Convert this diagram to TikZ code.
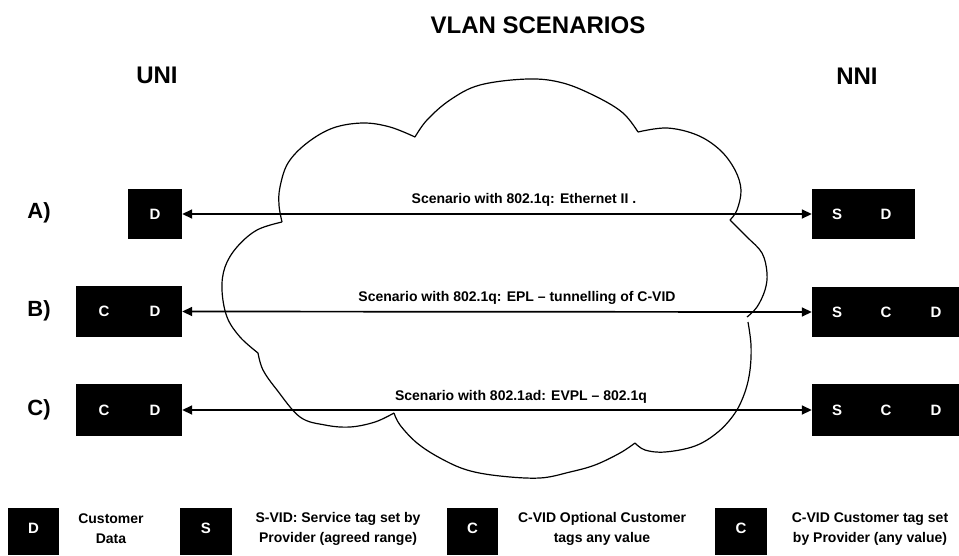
\documentclass[tikz,border=0pt]{standalone}
\usepackage{fontspec}
\setmainfont{Liberation Sans}
\usetikzlibrary{arrows.meta}
\tikzset{
  pbox/.style={fill=black, draw=none, inner sep=0pt},
  ltr/.style={text=white, inner sep=0pt, font=\bfseries\fontsize{15}{15}\selectfont},
  head/.style={inner sep=0pt, font=\bfseries\fontsize{24}{24}\selectfont},
  rowlab/.style={inner sep=0pt, font=\bfseries\fontsize{22}{22}\selectfont},
  scen/.style={inner sep=0pt, font=\bfseries\fontsize{14}{14}\selectfont},
  legtxt/.style={inner sep=0pt, align=center, font=\bfseries\fontsize{14}{20}\selectfont},
  cloudline/.style={line width=1.2pt, line join=round},
  link/.style={line width=1.7pt, {Triangle[length=10pt,width=9pt]}-{Triangle[length=10pt,width=9pt]}}
}
\begin{document}
\begin{tikzpicture}[x=1pt,y=-1pt]
\useasboundingbox[fill=white] (0,0) rectangle (959,555);

% headings
\node[head] (title) at (538,25) {VLAN SCENARIOS};
\node[head] (uni) at (157,75) {UNI};
\node[head] (nni) at (857,76) {NNI};

% cloud
\draw[cloudline] plot[smooth, tension=0.6] coordinates {(282,222) (279,205) (280,187) (288,163) (307,143) (333,128) (363,123) (390,127) (415,137)};
\draw[cloudline] plot[smooth, tension=0.6] coordinates {(415,137) (427,120) (450,100) (480,85) (528,79) (563,83) (597,97) (623,113) (638,132)};
\draw[cloudline] plot[smooth, tension=0.6] coordinates {(638,132) (667,128) (697,135) (720,150) (735,170) (741,190) (737,210) (730,220)};
\draw[cloudline] plot[smooth, tension=0.6] coordinates {(730,220) (747,237) (762,253) (767,273) (765,290) (757,307) (747,317)};
\draw[cloudline] plot[smooth, tension=0.6] coordinates {(748,322) (751,345) (750,370) (745,392) (735,413) (718,432) (695,446) (665,452) (645,450) (635,443)};
\draw[cloudline] plot[smooth, tension=0.6] coordinates {(635,443) (620,453) (595,465) (570,472) (540,478) (500,476) (467,470) (440,458) (417,443) (400,425) (394,413)};
\draw[cloudline] plot[smooth, tension=0.6] coordinates {(394,413) (375,422) (350,427) (325,425) (300,417) (277,390) (263,370) (258,353)};
\draw[cloudline] plot[smooth, tension=0.6] coordinates {(258,353) (240,337) (227,317) (222,290) (225,267) (237,247) (257,230) (282,222)};

% row labels
\node[rowlab] (ra) at (39,213) {A)};
\node[rowlab] (rb) at (39,311) {B)};
\node[rowlab] (rc) at (39,410) {C)};

% UNI boxes
\node[pbox, minimum width=54pt, minimum height=50pt] (la) at (155,214) {};
\node[pbox, minimum width=106pt, minimum height=51pt] (lb) at (129,311.5) {};
\node[pbox, minimum width=106pt, minimum height=52pt] (lc) at (129,410) {};
\node[ltr] (laD) at (155,214) {D};
\node[ltr] (lbC) at (104,311.5) {C};
\node[ltr] (lbD) at (155,311.5) {D};
\node[ltr] (lcC) at (104,410) {C};
\node[ltr] (lcD) at (155,410) {D};

% NNI boxes
\node[pbox, minimum width=103pt, minimum height=50pt] (rA) at (863.5,214) {};
\node[pbox, minimum width=147pt, minimum height=50pt] (rB) at (885.5,312) {};
\node[pbox, minimum width=147pt, minimum height=52pt] (rC) at (885.5,410) {};
\node[ltr] (rAS) at (837,214) {S};
\node[ltr] (rAD) at (886,214) {D};
\node[ltr] (rBS) at (837,312) {S};
\node[ltr] (rBC) at (886,312) {C};
\node[ltr] (rBD) at (936,312) {D};
\node[ltr] (rCS) at (837,410) {S};
\node[ltr] (rCC) at (886,410) {C};
\node[ltr] (rCD) at (936,410) {D};

% connectors
\draw[link] (la.east) -- (rA.west);
\draw[link] (lb.east) -- (rB.west);
\draw[link] (lc.east) -- (rC.west);

\node[scen] (sa) at (524,200) {Scenario with 802.1q: Ethernet II .};
\node[scen] (sb) at (517,298) {Scenario with 802.1q: EPL -- tunnelling of C-VID};
\node[scen] (sc) at (521,397) {Scenario with 802.1ad: EVPL -- 802.1q};

% legend
\node[pbox, minimum width=51pt, minimum height=47pt] (k1) at (33.5,531.5) {};
\node[pbox, minimum width=52pt, minimum height=47pt] (k2) at (206,531.5) {};
\node[pbox, minimum width=51pt, minimum height=47pt] (k3) at (472.5,531.5) {};
\node[pbox, minimum width=52pt, minimum height=47pt] (k4) at (741,531.5) {};
\node[ltr] (k1l) at (33.5,528) {D};
\node[ltr] (k2l) at (206,528) {S};
\node[ltr] (k3l) at (472.5,528) {C};
\node[ltr] (k4l) at (741,528) {C};
\node[legtxt] (t1) at (111,529) {Customer\\Data};
\node[legtxt] (t2) at (338,529) {S-VID: Service tag set by\\Provider (agreed range)};
\node[legtxt] (t3) at (602,529) {C-VID Optional Customer\\tags any value};
\node[legtxt] (t4) at (870,529) {C-VID Customer tag set\\by Provider (any value)};
\end{tikzpicture}
\end{document}
